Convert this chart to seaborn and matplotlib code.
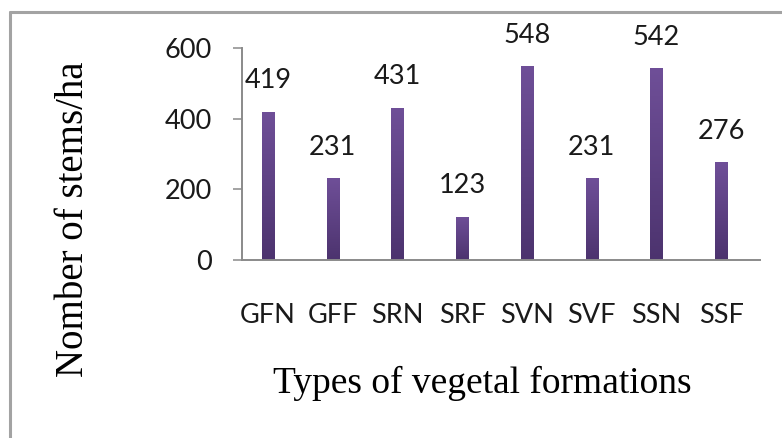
import numpy as np
import pandas as pd
import matplotlib
matplotlib.use("Agg")
import matplotlib.pyplot as plt
from matplotlib.lines import Line2D
from matplotlib.colors import LinearSegmentedColormap
import seaborn as sns


formations = ["GFN", "GFF", "SRN", "SRF", "SVN", "SVF", "SSN", "SSF"]
stems_per_ha = [419, 231, 431, 123, 548, 231, 542, 276]

TICK_FONT = "Lato"
LABEL_FONT = "Liberation Serif"
BAR_TOP = "#6f4f98"
BAR_BOTTOM = "#4c336e"
AXIS_GREY = "#8a8a8a"


def add_gradient(ax, patches) -> None:
    # vertical gradient, lighter at the top like the original office chart
    cmap = LinearSegmentedColormap.from_list("bar", [BAR_BOTTOM, BAR_TOP])
    grad = np.linspace(0, 1, 256).reshape(-1, 1)
    for p in patches:
        x0, y0 = p.get_x(), p.get_y()
        w, h = p.get_width(), p.get_height()
        im = ax.imshow(grad, cmap=cmap, origin="lower", aspect="auto",
                       extent=(x0, x0 + w, y0, y0 + h), zorder=p.get_zorder() + 0.1)
        im.set_clip_path(p)
        p.set_facecolor("none")


def main() -> None:
    sns.set_theme(style="white")
    plt.rcParams["font.family"] = [TICK_FONT, "DejaVu Sans"]

    df = pd.DataFrame({"formation": formations, "stems": stems_per_ha})

    fig = plt.figure(figsize=(7.82, 4.38), dpi=100)
    ax = fig.add_axes([0.3095, 0.4064, 0.9719 - 0.3095, 0.8904 - 0.4064])

    sns.barplot(data=df, x="formation", y="stems", color=BAR_TOP,
                width=0.19, saturation=1, ax=ax)
    add_gradient(ax, ax.patches)

    for p, v in zip(ax.patches, stems_per_ha):
        ax.annotate(str(v), (p.get_x() + p.get_width() / 2, p.get_height()),
                    xytext=(0, 13.5), textcoords="offset points",
                    ha="center", va="bottom", fontsize=19.5, color="#1a1a1a",
                    family=[TICK_FONT, "DejaVu Sans"])

    ax.set_ylim(0, 600)
    ax.set_yticks([0, 200, 400, 600])
    ax.set_xlim(-0.40, 7.60)

    for side in ["top", "right"]:
        ax.spines[side].set_visible(False)
    for side in ["left", "bottom"]:
        ax.spines[side].set_color(AXIS_GREY)
        ax.spines[side].set_linewidth(1.4)

    ax.tick_params(axis="y", direction="out", length=6.5, width=1.1,
                   color=AXIS_GREY, pad=15, labelsize=19.5, labelcolor="#1a1a1a", left=True)
    ax.tick_params(axis="x", length=0, pad=31, labelsize=19.5, labelcolor="#1a1a1a")

    ax.set_xlabel("Types of vegetal formations", fontsize=27,
                  family=[LABEL_FONT, "DejaVu Serif"], color="black")
    ax.xaxis.set_label_coords(0.463, -0.50)
    ax.set_ylabel("Nomber of stems/ha", fontsize=28,
                  family=[LABEL_FONT, "DejaVu Serif"], color="black")
    ax.yaxis.set_label_coords(-0.289, 0.193)

    # chart frame (only top and left edges are visible in the crop)
    frame_top = 1 - 12 / 438
    frame_left = 9.5 / 782
    fig.add_artist(Line2D([frame_left, 1.0], [frame_top, frame_top],
                          transform=fig.transFigure, color="#a3a3a3", lw=2.2))
    fig.add_artist(Line2D([frame_left, frame_left], [0.0, frame_top],
                          transform=fig.transFigure, color="#a3a3a3", lw=2.2))

    fig.savefig("out.png", dpi=100)
    plt.close(fig)


if __name__ == "__main__":
    main()
